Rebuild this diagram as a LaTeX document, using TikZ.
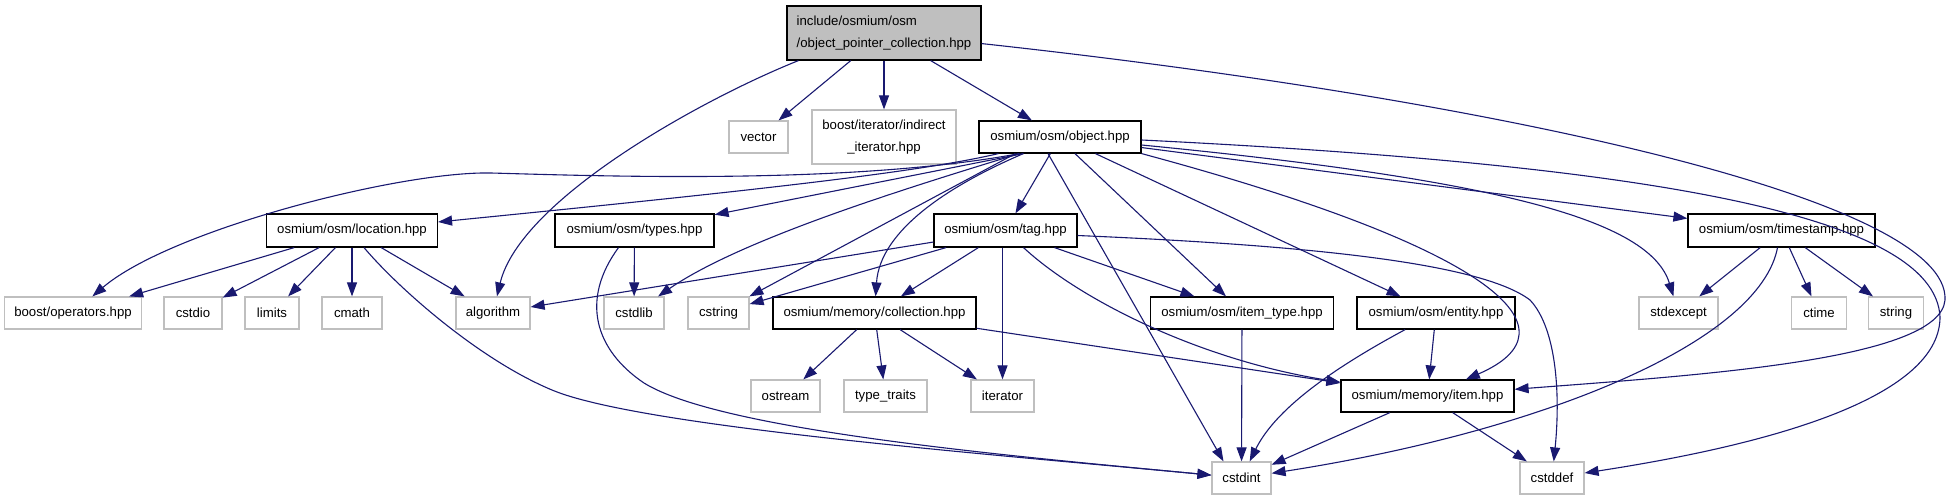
\documentclass[tikz,border=0pt]{standalone}
\usepackage{fontspec}
\setmainfont{Liberation Sans}
\usetikzlibrary{arrows.meta}
\definecolor{edgec}{HTML}{191970}
\definecolor{extc}{HTML}{BFBFBF}
\begin{document}
\begin{tikzpicture}[x=1pt,y=-1pt,
  box/.style={draw=black, line width=1.2pt, fill=white, minimum height=33pt, inner sep=0pt, font=\fontsize{13.2}{22}\selectfont},
  ext/.style={box, draw=extc},
  edge/.style={draw=edgec, line width=1.1pt, -{Triangle[length=14pt,width=10pt]}},
]
\useasboundingbox (0,0) rectangle (1953,501);
% row 0
\node[box, fill=extc, minimum width=194pt, minimum height=54pt, align=left] (root) at (884,33) {include/osmium/osm\\/object\_pointer\_collection.hpp};
% row 1
\node[ext, minimum width=59pt, minimum height=32pt] (vector) at (758.5,137) {vector};
\node[ext, minimum width=144pt, minimum height=54pt, align=center] (indirect) at (884,137) {boost/iterator/indirect\\\_iterator.hpp};
\node[box, minimum width=162pt, minimum height=32pt] (object) at (1060,137) {osmium/osm/object.hpp};
% row 2
\node[box, minimum width=171pt] (location) at (352,230.5) {osmium/osm/location.hpp};
\node[box, minimum width=159pt] (types) at (634.5,230.5) {osmium/osm/types.hpp};
\node[box, minimum width=143pt] (tag) at (1005.5,230.5) {osmium/osm/tag.hpp};
\node[box, minimum width=187pt] (timestamp) at (1781.5,230.5) {osmium/osm/timestamp.hpp};
% row 3
\node[ext, minimum width=137.5pt, minimum height=32pt] (boostops) at (73,313) {boost/operators.hpp};
\node[ext, minimum width=58pt, minimum height=32pt] (cstdio) at (193,313) {cstdio};
\node[ext, minimum width=54pt, minimum height=32pt] (limits) at (272,313) {limits};
\node[ext, minimum width=60pt, minimum height=32pt] (cmath) at (352,313) {cmath};
\node[ext, minimum width=74pt, minimum height=32pt] (algorithm) at (493,313) {algorithm};
\node[ext, minimum width=60pt, minimum height=32pt] (cstdlib) at (634,313) {cstdlib};
\node[ext, minimum width=61pt, minimum height=32pt] (cstring) at (718.5,313) {cstring};
\node[box, minimum width=203pt, minimum height=32pt] (collection) at (874.5,313) {osmium/memory/collection.hpp};
\node[box, minimum width=182.5pt, minimum height=32pt] (item_type) at (1242,313) {osmium/osm/item\_type.hpp};
\node[box, minimum width=158pt, minimum height=32pt] (entity) at (1436,313) {osmium/osm/entity.hpp};
\node[ext, minimum width=79pt, minimum height=32pt] (stdexcept) at (1678.5,313) {stdexcept};
\node[ext, minimum width=55.5pt, minimum height=32pt] (ctime) at (1819,313) {ctime};
\node[ext, minimum width=55pt, minimum height=32pt] (string) at (1896,313) {string};
% row 4
\node[ext, minimum width=69pt, minimum height=32pt] (ostream) at (785.5,396) {ostream};
\node[ext, minimum width=83pt, minimum height=32pt] (type_traits) at (885.5,396) {type\_traits};
\node[ext, minimum width=63pt, minimum height=32pt] (iterator) at (1002.5,396) {iterator};
\node[box, minimum width=173pt, minimum height=32pt] (item) at (1427.5,396) {osmium/memory/item.hpp};
% row 5
\node[ext, minimum width=59pt, minimum height=32pt] (cstdint) at (1241.5,478) {cstdint};
\node[ext, minimum width=64pt, minimum height=32pt] (cstddef) at (1552,478) {cstddef};

% root edges
\draw[edge] (root) -- (vector);
\draw[edge] (root) -- (indirect);
\draw[edge] (root) -- (object);
\draw[edge] ([xshift=12]root.south west) .. controls (700,100) and (520,200) .. (algorithm);
\draw[edge] (root) .. controls (1500,100) and (1950,200) .. (1945,300) .. controls (1940,360) and (1700,375) .. (item);
% object edges
\draw[edge] ([xshift=41]object.south west) .. controls (850,185) and (600,176) .. (491,173) .. controls (400,171) and (170,230) .. (boostops);
\draw[edge] ([xshift=20]object.south west) .. controls (920,172) and (760,190) .. (location);
\draw[edge] ([xshift=45]object.south west) -- (types);
\draw[edge] ([xshift=41]object.south west) .. controls (900,190) and (740,240) .. (cstdlib);
\draw[edge] ([xshift=37]object.south west) -- (cstring);
\draw[edge] ([xshift=45]object.south west) .. controls (950,185) and (880,230) .. (collection);
\draw[edge] (object) -- (tag);
\draw[edge] ([xshift=-12]object.south) -- ([xshift=-18]cstdint.north);
\draw[edge] ([xshift=15]object.south) -- ([xshift=-16]item_type.north);
\draw[edge] (object) -- (entity);
\draw[edge] (object.south east) .. controls (1500,250) and (1580,330) .. (item);
\draw[edge] ([yshift=-8]object.east) .. controls (1500,180) and (1650,220) .. (stdexcept);
\draw[edge] (object) -- (timestamp);
\draw[edge] ([yshift=-3]object.east) .. controls (1650,165) and (1935,215) .. (1940,317) .. controls (1940,390) and (1800,440) .. (cstddef);
% location edges
\draw[edge] (location) -- (boostops);
\draw[edge] (location) -- (cstdio);
\draw[edge] (location) -- (limits);
\draw[edge] (location) -- (cmath);
\draw[edge] (location) -- (algorithm);
\draw[edge] ([xshift=12]location.south) .. controls (400,290) and (480,360) .. (552,390) .. controls (640,427) and (1000,455) .. (cstdint);
% types edges
\draw[edge] (types) -- (cstdlib);
\draw[edge] ([xshift=-16]types.south) .. controls (580,300) and (595,350) .. (644,383) .. controls (720,430) and (1000,455) .. (cstdint);
% tag edges
\draw[edge] (tag) -- (algorithm);
\draw[edge] (tag) -- (cstring);
\draw[edge] (tag) -- (collection);
\draw[edge] ([xshift=-3]tag.south) -- (iterator);
\draw[edge] (tag) -- (item_type);
\draw[edge] ([xshift=18]tag.south) .. controls (1080,300) and (1200,360) .. (item);
\draw[edge] ([yshift=-5]tag.east) .. controls (1300,245) and (1480,262) .. (1530,300) .. controls (1558,330) and (1560,400) .. (cstddef);
% collection edges
\draw[edge] (collection) -- (ostream);
\draw[edge] (collection) -- (type_traits);
\draw[edge] (collection) -- (iterator);
\draw[edge] (collection) -- (item);
% item_type, entity, item
\draw[edge] (item_type) -- (cstdint);
\draw[edge] (entity) .. controls (1330,370) and (1275,410) .. (cstdint);
\draw[edge] (entity) -- (item);
\draw[edge] (item) -- (cstdint);
\draw[edge] (item) -- (cstddef);
% timestamp edges
\draw[edge] (timestamp) -- (stdexcept);
\draw[edge] (timestamp) -- (ctime);
\draw[edge] (timestamp) -- (string);
\draw[edge] ([xshift=-4]timestamp.south) .. controls (1760,340) and (1550,430) .. (cstdint);
\end{tikzpicture}
\end{document}
